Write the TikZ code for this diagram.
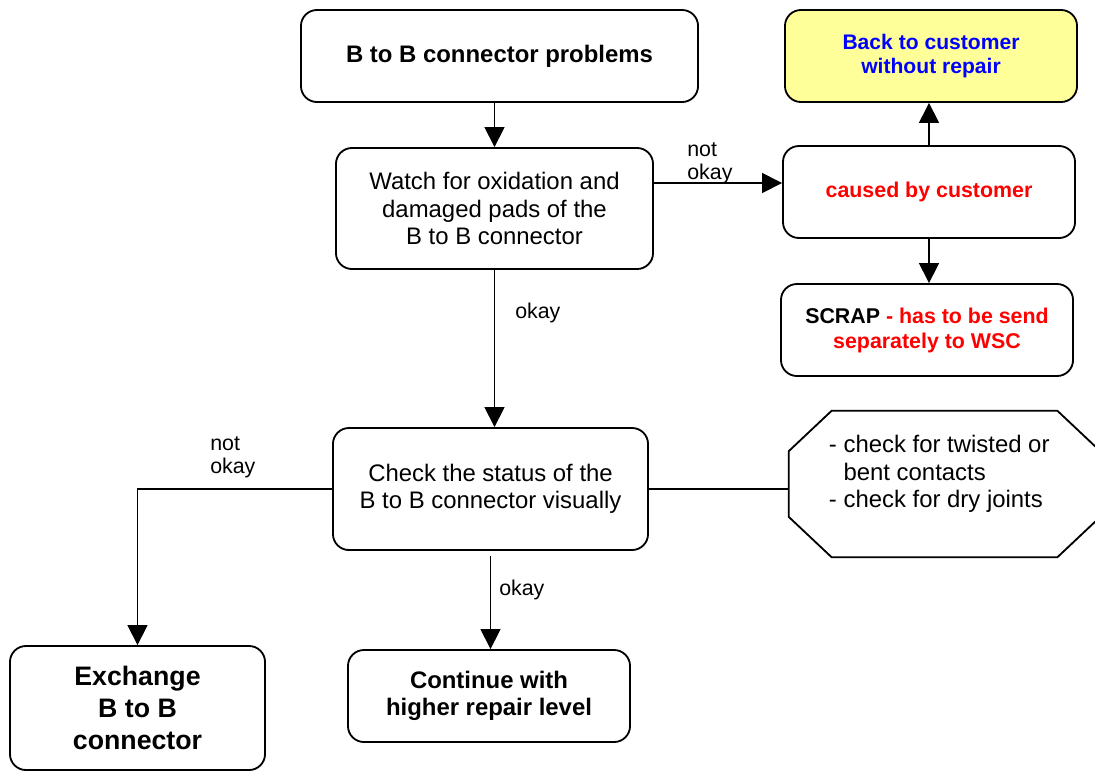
\documentclass[tikz,border=0pt]{standalone}
\usepackage{fontspec}
\setmainfont{Liberation Sans}
\usetikzlibrary{arrows.meta}

\begin{document}
\begin{tikzpicture}
	[x=0.025cm,y=-0.025cm,
	mybox/.style={draw,rounded corners=0.4cm,line width=1.3pt,align=center,inner sep=0pt,
		font=\fontsize{17}{19.6}\selectfont},
	boldbox/.style={mybox,font=\fontsize{17}{19.6}\selectfont\bfseries},
	myarrow/.style={line width=1pt,-{Triangle[length=0.5cm,width=0.5cm]}},
	myline/.style={line width=1pt},
	mylabel/.style={font=\fontsize{15.2}{16.4}\selectfont,align=left,inner sep=0pt}]
	\useasboundingbox (0,0) rectangle (1095,772);
	\clip (0,0) rectangle (1095,772);
	% boxes
	\node[boldbox,minimum width=9.925cm,minimum height=2.3cm,name=problem] at (499.5,56) {B to B connector problems};
	\node[mybox,minimum width=7.925cm,minimum height=3.025cm,name=watch] at (494.5,208.5)
	{Watch for oxidation and\\damaged pads of the\\B to B connector};
	\node[boldbox,fill={rgb,255:red,255;green,255;blue,153},minimum width=7.3cm,minimum height=2.3cm,
		font=\fontsize{15}{17}\selectfont\bfseries,text=blue,name=back] at (931,56) {Back to customer\\without repair};
	\node[boldbox,minimum width=7.3cm,minimum height=2.3cm,font=\fontsize{15.2}{17}\selectfont\bfseries,
		text=red,name=caused] at (929,192) {caused by customer};
	\node[boldbox,minimum width=7.3cm,minimum height=2.3cm,font=\fontsize{15.2}{17.8}\selectfont\bfseries,
		text=red,name=scrap] at (927,330) {\textcolor{black}{SCRAP} - has to be send\\separately to WSC};
	\node[mybox,minimum width=7.875cm,minimum height=3.05cm,name=check] at (490.5,489)
	{Check the status of the\\B to B connector visually};
	\node[boldbox,minimum width=6.375cm,minimum height=3.1cm,font=\fontsize{19}{22.8}\selectfont\bfseries,
		name=exchange] at (137.5,708) {Exchange\\B to B\\connector};
	\node[boldbox,minimum width=7.05cm,minimum height=2.3cm,name=continue] at (489,696)
	{Continue with\\higher repair level};
	\node[minimum width=7.775cm,minimum height=3.65cm,inner sep=0pt,name=tips] at (944.5,484) {};
	\draw[line width=1.3pt] ([xshift=1.075cm]tips.north west) -- ([xshift=-1.075cm]tips.north east)
		-- ([yshift=-1.0125cm]tips.north east) -- ([yshift=1.0125cm]tips.south east)
		-- ([xshift=-1.075cm]tips.south east) -- ([xshift=1.075cm]tips.south west)
		-- ([yshift=1.0125cm]tips.south west) -- ([yshift=-1.0125cm]tips.north west) -- cycle;
	\node[anchor=west,align=left,inner sep=0pt,font=\fontsize{17}{19.6}\selectfont,name=tipstext]
		at ([xshift=1cm,yshift=0.25cm]tips.west)
	{- check for twisted or\\\hphantom{- }bent contacts\\- check for dry joints};
	% labels
	\node[mylabel,anchor=south west,name=lab1] at (687,184) {not\\okay};
	\node[mylabel,anchor=west,name=lab2] at (515,313) {okay};
	\node[mylabel,anchor=north west,name=lab3] at (210,436) {not\\okay};
	\node[mylabel,anchor=west,name=lab4] at (499,590) {okay};
	% connectors
	\draw[myarrow] (watch.north |- problem.south) -- (watch.north);
	\draw[myarrow] (watch.south) -- (watch.south |- check.north);
	\draw[myarrow] (watch.east |- 0,183) -- (caused.west |- 0,183);
	\draw[myarrow] (caused.north) -- (caused.north |- back.south);
	\draw[myarrow] (caused.south) -- (caused.south |- scrap.north);
	\draw[myarrow] (check.west) -| (exchange.north);
	\draw[myarrow] ([yshift=-0.125cm]check.south) -- (check.south |- continue.north);
	\draw[myline] (check.east) -- (check.east -| tips.west);
\end{tikzpicture}
\end{document}
